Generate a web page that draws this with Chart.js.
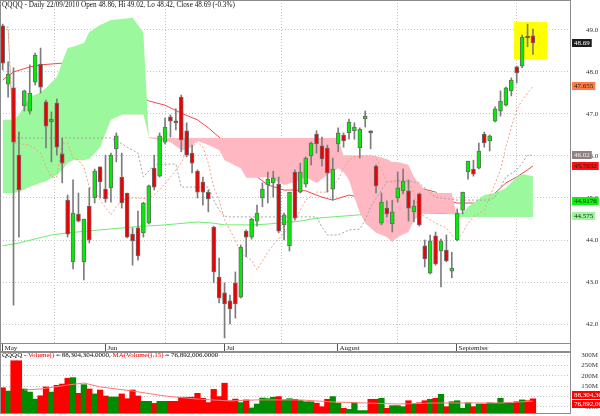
<!DOCTYPE html>
<html lang="en">
<head>
<meta charset="UTF-8">
<title>QQQQ - Daily</title>
<script src="https://cdn.jsdelivr.net/npm/chart.js"></script>
<style>
    body { margin: 0; background: #fff; }
    .wrap { position: relative; width: 600px; height: 416px; overflow: hidden; }
    canvas { position: absolute; left: 0; }
    .ttl { position: absolute; left: 2px; font: 7px 'Liberation Serif', serif; color: #111; white-space: nowrap; line-height: 9px; }
    .ttl.main { font-size: 7.2px; }
    .ttl span { color: #f00; }
</style>
</head>
<body>
<div class="wrap">
    <canvas id="priceChart" width="600" height="352" style="top:0"></canvas>
    <canvas id="volumeChart" width="600" height="64" style="top:352px"></canvas>
    <div class="ttl main" style="top:1px">QQQQ - Daily 22/09/2010 Open 48.86, Hi 49.02, Lo 48.42, Close 48.69 (-0.3%)</div>
    <div class="ttl" style="top:351px">QQQQ - <span>Volume()</span> = 88,304,304.0000, <span>MA(Volume(),15)</span> = 76,892,006.0000</div>
</div>

<script>
    // trading days 4 May .. 22 Sep 2010, indexed 0..98
    const monthNames = ['May', 'Jun', 'Jul', 'August', 'September'];
    const monthStart = [0, 19, 41, 62, 84];

    const opens = [49.10, 47.71, 47.62, 46.02, 47.19, 47.07, 47.76, 48.19, 47.29, 46.81,
        47.26, 46.05, 44.95, 43.48, 44.62, 43.48, 44.81, 45.00, 45.74, 45.21,
        45.24, 46.17, 45.50, 45.12, 44.14, 44.29, 44.17, 44.40, 45.71, 45.52,
        46.33, 46.93, 46.83, 47.40, 46.60, 46.07, 45.64, 45.38, 45.14, 44.31,
        43.12, 42.74, 42.55, 42.98, 42.64, 44.21, 44.07, 44.45, 45.00, 45.31,
        45.36, 45.33, 44.36, 43.86, 45.62, 45.14, 45.33, 46.00, 46.52, 46.24,
        46.19, 45.21, 46.29, 46.50, 46.55, 46.60, 46.19, 46.88, 46.57, 45.76,
        44.40, 44.76, 44.38, 45.00, 45.17, 45.17, 44.67, 45.10, 43.86, 43.21,
        44.10, 43.74, 43.76, 43.26, 44.00, 44.71, 45.62, 45.69, 45.71, 46.52,
        46.36, 46.83, 47.07, 47.21, 47.55, 48.12, 48.14, 48.83, 48.86];
    const highs = [49.14, 48.24, 48.10, 46.57, 47.57, 48.17, 48.45, 48.57, 47.33, 47.05,
        47.36, 46.43, 45.07, 45.43, 45.12, 44.50, 45.24, 45.69, 45.74, 46.02,
        46.07, 46.55, 46.07, 45.12, 44.29, 44.69, 44.90, 45.31, 46.02, 46.55,
        46.90, 46.98, 47.12, 47.45, 46.79, 46.26, 45.67, 45.50, 45.19, 44.33,
        43.57, 42.98, 42.69, 43.24, 43.88, 44.24, 44.52, 44.83, 45.36, 45.62,
        45.64, 45.50, 44.64, 45.14, 45.67, 45.83, 45.98, 46.33, 46.60, 46.45,
        46.26, 45.95, 46.67, 46.55, 46.88, 46.79, 46.67, 47.07, 46.60, 45.79,
        45.12, 44.93, 44.95, 45.62, 45.69, 45.43, 44.95, 45.12, 44.00, 44.12,
        44.19, 44.02, 44.12, 43.71, 44.74, 45.14, 45.88, 45.90, 46.31, 46.57,
        46.50, 47.17, 47.55, 47.64, 47.86, 48.14, 48.88, 49.14, 49.02];
    const lows = [48.05, 47.40, 42.45, 44.07, 47.07, 47.00, 47.69, 47.50, 46.19, 45.86,
        46.02, 45.36, 44.07, 43.31, 44.43, 43.05, 43.93, 44.88, 45.00, 44.90,
        44.90, 45.86, 44.76, 44.05, 43.40, 43.52, 44.07, 44.38, 45.19, 45.50,
        46.29, 46.45, 46.62, 46.10, 45.98, 45.60, 45.00, 44.83, 44.67, 42.98,
        42.50, 41.67, 42.00, 42.14, 42.62, 43.60, 44.02, 44.33, 44.79, 44.88,
        45.02, 44.17, 44.00, 43.74, 44.48, 45.12, 45.26, 45.79, 46.07, 45.76,
        45.14, 44.95, 46.10, 46.21, 46.40, 46.40, 45.95, 46.69, 46.17, 45.12,
        44.36, 44.55, 44.19, 44.90, 45.10, 44.45, 44.43, 44.33, 43.36, 43.19,
        43.40, 42.88, 43.48, 43.10, 43.98, 44.62, 45.45, 45.52, 45.69, 46.21,
        46.12, 46.81, 46.95, 47.19, 47.43, 47.74, 48.10, 48.60, 48.42];
    const closes = [48.21, 47.95, 46.33, 45.19, 47.55, 47.50, 48.40, 47.64, 46.71, 46.88,
        46.21, 45.83, 44.14, 44.64, 44.45, 44.50, 44.00, 45.64, 45.38, 44.98,
        46.02, 46.48, 44.88, 44.07, 43.98, 43.62, 44.88, 45.29, 45.26, 46.48,
        46.69, 46.83, 46.79, 46.38, 46.02, 45.83, 45.14, 45.14, 44.98, 43.24,
        42.62, 42.48, 42.36, 42.48, 43.83, 44.07, 44.50, 44.64, 45.21, 45.45,
        45.48, 44.21, 44.60, 45.14, 44.52, 45.62, 45.95, 46.31, 46.29, 45.93,
        45.60, 45.69, 46.55, 46.36, 46.81, 46.69, 46.64, 46.95, 46.55, 45.29,
        44.90, 44.62, 44.67, 45.24, 45.40, 44.76, 44.81, 44.36, 43.55, 43.98,
        43.43, 43.98, 43.50, 43.33, 44.64, 45.14, 45.88, 45.57, 46.12, 46.31,
        46.48, 47.12, 47.31, 47.62, 47.81, 47.98, 48.83, 48.81, 48.69];
    // volume, millions of shares
    const volumes = [142, 126, 273, 273, 136, 121, 87, 103, 146, 121,
        154, 160, 188, 191, 115, 157, 136, 112, 131, 102,
        97, 97, 112, 89, 131, 102, 76, 76, 66, 76,
        76, 76, 76, 96, 96, 96, 115, 91, 70, 134,
        99, 164, 79, 87, 70, 83, 44, 63, 92, 89,
        96, 99, 83, 89, 86, 80, 74, 74, 67, 50,
        86, 99, 67, 42, 37, 69, 31, 31, 86, 86,
        91, 42, 55, 55, 50, 79, 65, 69, 79, 86,
        91, 110, 50, 74, 79, 42, 69, 50, 63, 63,
        69, 67, 91, 69, 67, 74, 83, 79, 88.304];

    // indicator lines (day index, price)
    const tenkanDay = [0, 1, 2, 5, 7, 8, 9, 10, 11, 12, 13, 14, 15, 16, 17, 18, 20, 21, 22, 24,
        25, 27, 29, 31, 33, 34, 36, 37, 38, 39, 40, 41, 43, 44, 46, 47, 49, 50, 52, 54,
        56, 58, 60, 62, 63, 64, 65, 68, 69, 70, 71, 73, 75, 76, 77, 79, 80, 82, 83, 84,
        85, 86, 87, 89, 90, 92, 93, 94, 95, 96, 97, 98];
    const tenkan = [49.07, 49.00, 46.31, 46.26, 46.07, 45.74, 45.50, 45.50, 46.31, 46.31,
        45.95, 45.90, 45.74, 45.26, 45.19, 44.95, 44.60, 44.79, 44.95, 45.00,
        45.00, 44.98, 45.19, 45.50, 45.83, 46.14, 46.33, 46.21, 45.83, 45.26,
        44.95, 44.48, 44.00, 43.69, 43.52, 43.29, 43.71, 43.88, 44.17, 44.48,
        44.95, 45.14, 45.14, 45.43, 45.71, 45.90, 45.98, 46.02, 45.95, 45.67,
        45.38, 45.38, 45.38, 45.12, 44.64, 44.48, 44.40, 44.29, 44.12, 44.00,
        44.17, 44.40, 44.55, 44.71, 45.02, 45.67, 46.21, 46.69, 47.10, 47.33,
        47.50, 47.655];
    const kijunDay = [0, 1, 2, 20, 22, 23, 25, 26, 28, 32, 33, 38, 39, 40, 41, 42, 58, 59, 60, 62,
        64, 66, 67, 68, 70, 71, 74, 76, 77, 79, 80, 84, 90, 91, 92, 93, 95, 96, 97, 98];
    const kijun = [49.07, 49.07, 46.43, 46.43, 46.29, 46.21, 46.07, 45.50, 45.79, 45.81,
        45.26, 45.26, 44.95, 44.71, 44.57, 44.55, 44.55, 44.31, 44.12, 44.12,
        44.24, 44.26, 44.48, 44.79, 45.19, 45.38, 45.43, 45.38, 45.36, 45.12,
        45.02, 44.95, 44.95, 45.02, 45.26, 45.50, 45.67, 45.83, 46.02, 46.02];

    const cloudDay = [0, 2, 3, 5, 7, 8, 10, 11, 12, 13, 15, 16, 18, 20, 22, 24, 25, 26, 27, 29,
        31, 33, 34, 35, 36, 38, 40, 41, 44, 45, 47, 49, 52, 54, 56, 58, 60, 62, 63, 64,
        65, 66, 67, 69, 71, 72, 73, 75, 76, 78, 80, 83, 84, 85, 86, 89, 91, 93, 95, 96, 98];
    const spanA = [46.86, 46.86, 46.98, 47.40, 47.52, 47.62, 47.88, 48.24, 48.57, 48.60,
        48.69, 48.95, 49.12, 49.24, 49.26, 49.29, 49.12, 48.93, 46.43, 46.38,
        46.33, 46.14, 46.14, 46.26, 46.36, 46.26, 46.14, 45.90, 45.71, 45.48,
        45.48, 45.50, 45.31, 45.38, 45.50, 45.36, 45.55, 45.71, 45.62, 45.43,
        45.02, 44.64, 44.40, 44.17, 44.07, 43.95, 44.07, 44.19, 44.48, 44.64,
        44.64, 44.64, 44.64, 44.64, 44.79, 45.07, 45.12, 45.24, 45.50, 45.57, 45.52];
    const spanB = [45.12, 45.12, 45.14, 45.26, 45.36, 45.40, 45.55, 45.67, 45.83, 45.90,
        45.90, 45.93, 46.21, 46.86, 46.98, 46.98, 46.98, 46.98, 46.45, 46.43,
        46.43, 46.43, 46.43, 46.43, 46.43, 46.43, 46.43, 46.43, 46.43, 46.43,
        46.43, 46.43, 46.43, 46.43, 46.43, 46.43, 46.43, 46.43, 46.02, 46.02,
        46.02, 46.02, 46.02, 46.00, 45.93, 45.86, 45.86, 45.79, 45.50, 45.19,
        45.12, 45.12, 44.55, 44.55, 44.55, 44.55, 44.55, 44.55, 44.55, 44.55, 44.55];

    const avgShortDay = [0, 2, 5, 7, 11, 18, 24, 27, 30, 33, 36, 38, 40, 44, 46, 49, 52, 54, 56, 59,
        61, 64, 66, 70, 74, 77, 80, 82, 84, 87, 89, 91, 93, 95, 97, 98];
    const avgShort = [47.81, 48.00, 48.12, 48.17, 48.21, 47.93, 47.52, 47.31, 47.21, 47.02,
        46.86, 46.67, 46.45, 45.90, 45.60, 45.31, 45.19, 45.19, 45.17, 45.02,
        44.95, 45.07, 45.02, 45.24, 45.29, 45.24, 45.14, 44.95, 44.88, 44.88,
        44.90, 45.12, 45.36, 45.50, 45.67, 45.7632];
    const avgLongDay = [0, 3, 9, 12, 18, 24, 30, 36, 39, 41, 46, 49, 55, 58, 66, 73, 78, 84, 98];
    const avgLong = [43.86, 43.93, 44.12, 44.17, 44.24, 44.31, 44.36, 44.43, 44.40, 44.36,
        44.36, 44.38, 44.45, 44.52, 44.60, 44.64, 44.64, 44.62, 44.575];

    const volAvgDay = [4, 7, 12, 15, 18, 24, 30, 36, 42, 47, 55, 61, 67, 73, 80, 86, 92, 98];
    const volAvg = [131, 136, 155, 165, 146, 126, 102, 87, 78, 83, 83, 73, 68, 63, 68, 68, 68, 76.892];

    const priceTicks = [42, 43, 44, 45, 46, 47, 48, 49];
    const volumeTicks = [50, 100, 150, 200, 250, 300];

    // last values shown in the right margin
    const priceMarks = [48.69, 47.655, 46.02, 45.7632, 44.9176, 44.575];
    const priceMarkText = ['48.69', '47.655', '46.02', '45.7632', '44.9176', '44.575'];
    const volumeMarks = [88.304304, 76.892006];
    const volumeMarkText = ['88,304,304', '76,892,006'];

    const priceMarkStyle = [
        { bg: '#1c1c1c', fg: '#fff' }, { bg: '#ff7a45', fg: '#222' }, { bg: '#8e8280', fg: '#eee' },
        { bg: '#ff1010', fg: '#222' }, { bg: '#10f010', fg: '#222' }, { bg: '#9cf79c', fg: '#222' }
    ];
    const volumeMarkStyle = [{ bg: '#ff0000', fg: '#fff' }, { bg: '#ff0000', fg: '#fff' }];

    const serif = "7px 'Liberation Serif', serif";
    const days = closes.map((c, i) => i);
    const up = days.map(i => closes[i] >= opens[i]);
    const pts = (xs, ys) => xs.map((x, k) => ({ x: x, y: ys[k] }));
    const xRange = { type: 'linear', min: -0.5, max: 105.03, offset: false };

    const panelFrame = {
        id: 'panelFrame',
        afterDraw(chart) {
            const { ctx, chartArea: a } = chart;
            ctx.save();
            ctx.strokeStyle = '#8c8c8c';
            ctx.lineWidth = 1;
            ctx.strokeRect(a.left + 0.5, a.top + 0.5, a.right - a.left - 1, a.bottom - a.top - 1);
            ctx.restore();
        }
    };

    function rightAxis(ticks, fmt, marks, markText, markStyle, labelX, labelAlign) {
        return {
            id: 'rightAxis',
            afterDraw(chart) {
                const { ctx, chartArea: a, scales: { y } } = chart;
                ctx.save();
                ctx.font = serif;
                ctx.textBaseline = 'middle';
                ctx.fillStyle = '#333';
                ctx.textAlign = labelAlign;
                ticks.forEach(v => ctx.fillText(fmt(v), a.right + labelX, y.getPixelForValue(v)));

                // value boxes, pushed apart when they overlap
                const ys = marks.map(v => y.getPixelForValue(v));
                for (let k = 1; k < ys.length; k++) {
                    if (ys[k] - ys[k - 1] < 9) {
                        const mid = (ys[k] + ys[k - 1]) / 2;
                        ys[k - 1] = mid - 4.5;
                        ys[k] = mid + 4.5;
                    }
                }
                ctx.textAlign = 'left';
                marks.forEach((v, k) => {
                    const w = ctx.measureText(markText[k]).width + 4;
                    ctx.fillStyle = markStyle[k].bg;
                    ctx.fillRect(a.right + 1, Math.round(ys[k]) - 4, w, 8);
                    ctx.fillStyle = markStyle[k].fg;
                    ctx.fillText(markText[k], a.right + 3, Math.round(ys[k]));
                });
                ctx.restore();
            }
        };
    }

    const monthAxis = {
        id: 'monthAxis',
        afterDraw(chart) {
            const { ctx, chartArea: a, scales: { x } } = chart;
            ctx.save();
            ctx.strokeStyle = '#8c8c8c';
            ctx.strokeRect(a.left + 0.5, a.bottom - 0.5, a.right - a.left - 1, 8);
            ctx.font = serif;
            ctx.fillStyle = '#222';
            ctx.textBaseline = 'middle';
            ctx.strokeStyle = '#555';
            monthStart.forEach((d, k) => {
                const px = Math.round(x.getPixelForValue(d)) - 0.5;
                ctx.beginPath();
                ctx.moveTo(px, a.bottom);
                ctx.lineTo(px, a.bottom + 7);
                ctx.stroke();
                ctx.fillText(monthNames[k], px + 2, a.bottom + 4);
            });
            ctx.restore();
        }
    };

    const highlightBox = { from: 94.5, to: 100.6, low: 48.31, high: 49.19 };
    const highlight = {
        id: 'highlight',
        beforeDatasetsDraw(chart) {
            const { ctx, scales: { x, y } } = chart;
            const x0 = x.getPixelForValue(highlightBox.from);
            const x1 = x.getPixelForValue(highlightBox.to);
            const y0 = y.getPixelForValue(highlightBox.high);
            const y1 = y.getPixelForValue(highlightBox.low);
            ctx.save();
            ctx.fillStyle = '#ffff00';
            ctx.fillRect(x0, y0, x1 - x0, y1 - y0);
            ctx.restore();
        }
    };

    const gridStyle = { color: '#c4c4c4', drawTicks: false };
    const gridBorder = { display: false, dash: [1, 2] };

    new Chart(document.getElementById('priceChart'), {
        data: {
            datasets: [
                {
                    type: 'bar', data: days.map(i => ({ x: i, y: [opens[i], closes[i]] })),
                    backgroundColor: up.map(u => u ? '#00ee00' : '#ee0000'),
                    borderColor: '#6a6a6a', borderWidth: 1, borderSkipped: false,
                    barThickness: 4, minBarLength: 2, grouped: false, order: 0
                },
                {
                    type: 'bar', data: days.map(i => ({ x: i, y: [lows[i], highs[i]] })),
                    backgroundColor: '#7c7c7c', barThickness: 1, grouped: false, order: 1
                },
                {
                    type: 'line', data: pts(tenkanDay, tenkan), borderColor: '#f7a07c',
                    borderWidth: 1, borderDash: [2, 2], pointRadius: 0, tension: 0, order: 2
                },
                {
                    type: 'line', data: pts(kijunDay, kijun), borderColor: '#a4a4a4',
                    borderWidth: 1, borderDash: [2, 2], pointRadius: 0, tension: 0, order: 3
                },
                {
                    type: 'line', data: pts(cloudDay, spanA), borderColor: 'rgba(0,0,0,0)', borderWidth: 0,
                    pointRadius: 0, tension: 0, order: 4,
                    fill: { target: '+1', above: '#9cf89c', below: '#ffb8c2' }
                },
                {
                    type: 'line', data: pts(cloudDay, spanB), borderColor: 'rgba(0,0,0,0)', borderWidth: 0,
                    pointRadius: 0, tension: 0, fill: false, order: 5
                },
                {
                    type: 'line', data: pts(avgShortDay, avgShort), borderColor: '#f24a4a',
                    borderWidth: 1, pointRadius: 0, tension: 0, order: 6
                },
                {
                    type: 'line', data: pts(avgLongDay, avgLong), borderColor: '#6ced6c',
                    borderWidth: 1, pointRadius: 0, tension: 0, order: 7
                }
            ]
        },
        options: {
            responsive: false,
            animation: false,
            events: [],
            layout: { padding: { left: 0, right: 0, top: 0, bottom: 8 } },
            plugins: { legend: { display: false }, tooltip: { enabled: false } },
            scales: {
                x: Object.assign({}, xRange, {
                    afterBuildTicks: s => { s.ticks = monthStart.map(v => ({ value: v })); },
                    ticks: { display: false },
                    grid: gridStyle,
                    border: gridBorder
                }),
                y: {
                    type: 'linear', position: 'right', min: 41.524, max: 49.714,
                    afterBuildTicks: s => { s.ticks = priceTicks.map(v => ({ value: v })); },
                    afterFit: s => { s.width = 29; },
                    ticks: { display: false },
                    grid: gridStyle,
                    border: gridBorder
                }
            }
        },
        plugins: [highlight, panelFrame, monthAxis,
            rightAxis(priceTicks, v => v.toFixed(1), priceMarks, priceMarkText, priceMarkStyle, 15, 'left')]
    });

    new Chart(document.getElementById('volumeChart'), {
        data: {
            datasets: [
                {
                    type: 'line', data: pts(volAvgDay, volAvg), borderColor: '#ff7878',
                    borderWidth: 1, pointRadius: 0, tension: 0, order: 0
                },
                {
                    type: 'bar', data: days.map(i => ({ x: i, y: volumes[i] })),
                    backgroundColor: up.map(u => u ? '#008c00' : '#ff0000'),
                    barThickness: 5.6, grouped: false, order: 1
                }
            ]
        },
        options: {
            responsive: false,
            animation: false,
            events: [],
            layout: { padding: { left: 0, right: 0, top: 0, bottom: 2 } },
            plugins: { legend: { display: false }, tooltip: { enabled: false } },
            scales: {
                x: Object.assign({}, xRange, { display: false }),
                y: {
                    type: 'linear', position: 'right', min: 14.6, max: 315.4,
                    afterBuildTicks: s => { s.ticks = volumeTicks.map(v => ({ value: v })); },
                    afterFit: s => { s.width = 29; },
                    ticks: { display: false },
                    grid: gridStyle,
                    border: gridBorder
                }
            }
        },
        plugins: [panelFrame,
            rightAxis(volumeTicks, v => v + 'M', volumeMarks, volumeMarkText, volumeMarkStyle, 27, 'right')]
    });
</script>
</body>
</html>
